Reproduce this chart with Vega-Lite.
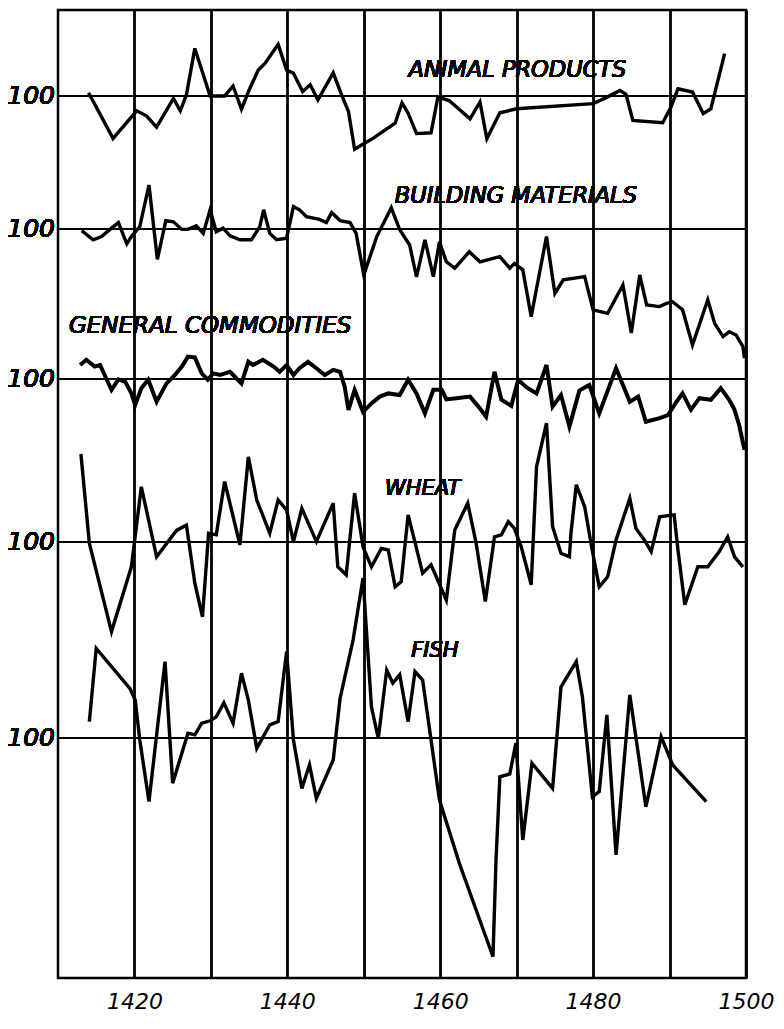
{
  "$schema": "https://vega.github.io/schema/vega-lite/v6.json",
  "width": 688,
  "height": 968,
  "autosize": {"type": "none"},
  "padding": {"left": 58, "top": 10, "right": 38, "bottom": 51},
  "background": "white",
  "config": {
    "view": {"stroke": "black", "strokeWidth": 2.5},
    "font": "DejaVu Sans"
  },
  "datasets": {
    "animal": [
      {"yr":1414.0,"v":100.8},{"yr":1417.2,"v":89.4},{"yr":1420.3,"v":96.3},{"yr":1421.6,"v":95.0},{"yr":1422.9,"v":92.2},{"yr":1425.1,"v":99.4},{"yr":1426.0,"v":96.3},{"yr":1426.8,"v":100.3},{"yr":1427.9,"v":111.9},{"yr":1429.9,"v":100},{"yr":1431.8,"v":100},{"yr":1432.9,"v":102.5},{"yr":1434.0,"v":96.7},{"yr":1435.0,"v":101.5},{"yr":1436.2,"v":106.5},{"yr":1437.1,"v":108.2},{"yr":1438.8,"v":112.9},{"yr":1439.9,"v":106.5},{"yr":1440.8,"v":105.7},{"yr":1442.0,"v":101.1},{"yr":1443.0,"v":102.8},{"yr":1444.0,"v":99.0},{"yr":1446.0,"v":105.8},{"yr":1447.1,"v":100.3},{"yr":1448.0,"v":96.1},{"yr":1448.8,"v":86.7},{"yr":1450.1,"v":88.2},{"yr":1451.2,"v":89.4},{"yr":1454.1,"v":93.2},{"yr":1455.0,"v":98.3},{"yr":1455.8,"v":95.7},{"yr":1456.9,"v":90.6},{"yr":1458.8,"v":90.8},{"yr":1459.7,"v":99.8},{"yr":1461.2,"v":98.8},{"yr":1463.9,"v":94.3},{"yr":1465.2,"v":98.5},{"yr":1466.1,"v":89.3},{"yr":1467.8,"v":95.8},{"yr":1470.0,"v":96.8},{"yr":1480.0,"v":98.1},{"yr":1481.7,"v":99.6},{"yr":1483.5,"v":101.4},{"yr":1484.3,"v":100.4},{"yr":1485.2,"v":93.9},{"yr":1489.1,"v":93.3},{"yr":1490.2,"v":97.3},{"yr":1491.1,"v":101.8},{"yr":1493.0,"v":101},{"yr":1494.4,"v":95.6},{"yr":1495.4,"v":96.8},{"yr":1497.2,"v":110.6}
    ],
    "building": [
      {"yr":1413.1,"v":99.6},{"yr":1414.6,"v":97.3},{"yr":1415.7,"v":98.1},{"yr":1416.8,"v":99.9},{"yr":1417.9,"v":101.6},{"yr":1419.0,"v":96.3},{"yr":1419.6,"v":98.1},{"yr":1420.7,"v":100.6},{"yr":1421.9,"v":111},{"yr":1423.0,"v":92.4},{"yr":1424.1,"v":102.1},{"yr":1425.1,"v":101.8},{"yr":1426.2,"v":99.9},{"yr":1427.0,"v":99.9},{"yr":1428.1,"v":100.8},{"yr":1429.0,"v":98.9},{"yr":1429.9,"v":104.8},{"yr":1430.7,"v":99.3},{"yr":1431.6,"v":100.2},{"yr":1432.5,"v":98.3},{"yr":1433.8,"v":97.3},{"yr":1435.3,"v":97.3},{"yr":1436.4,"v":100.6},{"yr":1436.9,"v":104.8},{"yr":1437.7,"v":98.9},{"yr":1438.6,"v":97.3},{"yr":1439.9,"v":97.7},{"yr":1440.8,"v":105.6},{"yr":1441.6,"v":104.8},{"yr":1442.5,"v":103.1},{"yr":1444.2,"v":102.4},{"yr":1445.1,"v":101.6},{"yr":1445.8,"v":104.1},{"yr":1446.9,"v":102.1},{"yr":1448.2,"v":101.6},{"yr":1449.0,"v":98.9},{"yr":1450.0,"v":88.5},{"yr":1451.7,"v":98.1},{"yr":1453.6,"v":105.3},{"yr":1454.7,"v":99.8},{"yr":1456.0,"v":96},{"yr":1456.9,"v":88},{"yr":1458.0,"v":97.3},{"yr":1459.1,"v":88.1},{"yr":1459.9,"v":96.8},{"yr":1460.8,"v":91.8},{"yr":1461.9,"v":90.2},{"yr":1463.8,"v":94.3},{"yr":1465.2,"v":91.8},{"yr":1467.8,"v":93.1},{"yr":1469.1,"v":90.2},{"yr":1469.7,"v":91.4},{"yr":1470.8,"v":89.8},{"yr":1471.9,"v":78.1},{"yr":1473.9,"v":98.1},{"yr":1475.0,"v":83.9},{"yr":1476.1,"v":87.3},{"yr":1478.9,"v":88.1},{"yr":1480.0,"v":79.8},{"yr":1481.9,"v":78.9},{"yr":1483.9,"v":86},{"yr":1485.0,"v":74},{"yr":1486.1,"v":88.5},{"yr":1487.0,"v":81},{"yr":1488.7,"v":80.6},{"yr":1489.6,"v":81.4},{"yr":1490.4,"v":81.8},{"yr":1491.7,"v":79.8},{"yr":1493.0,"v":71},{"yr":1495.0,"v":82.3},{"yr":1495.9,"v":76.4},{"yr":1497.0,"v":73.1},{"yr":1497.8,"v":74.3},{"yr":1498.7,"v":73.5},{"yr":1499.6,"v":70.6},{"yr":1499.8,"v":67.7}
    ],
    "general": [
      {"yr":1412.9,"v":103.5},{"yr":1413.7,"v":104.8},{"yr":1414.8,"v":103.1},{"yr":1415.5,"v":103.5},{"yr":1416.1,"v":101},{"yr":1417.0,"v":97.3},{"yr":1417.9,"v":99.9},{"yr":1418.8,"v":99.3},{"yr":1419.6,"v":96.4},{"yr":1420.1,"v":93.5},{"yr":1420.9,"v":97.7},{"yr":1421.8,"v":99.8},{"yr":1422.9,"v":94.3},{"yr":1424.2,"v":98.9},{"yr":1425.3,"v":101},{"yr":1426.2,"v":103.1},{"yr":1427.0,"v":105.6},{"yr":1427.9,"v":105.4},{"yr":1428.8,"v":101.4},{"yr":1429.6,"v":99.8},{"yr":1430.3,"v":101.4},{"yr":1431.2,"v":101},{"yr":1432.5,"v":101.8},{"yr":1434.0,"v":98.9},{"yr":1434.9,"v":104.3},{"yr":1435.5,"v":103.5},{"yr":1436.8,"v":104.8},{"yr":1438.2,"v":103.1},{"yr":1439.0,"v":101.8},{"yr":1439.9,"v":103.5},{"yr":1440.8,"v":101},{"yr":1441.6,"v":102.7},{"yr":1442.7,"v":104.3},{"yr":1443.8,"v":102.7},{"yr":1444.9,"v":101},{"yr":1446.0,"v":102.3},{"yr":1446.9,"v":101.8},{"yr":1447.5,"v":98.1},{"yr":1448.0,"v":92.3},{"yr":1448.8,"v":97.3},{"yr":1449.9,"v":91.8},{"yr":1451.0,"v":93.9},{"yr":1452.1,"v":95.6},{"yr":1453.2,"v":96.4},{"yr":1454.7,"v":96},{"yr":1455.8,"v":99.8},{"yr":1456.9,"v":96.4},{"yr":1458.0,"v":91.4},{"yr":1459.1,"v":97.3},{"yr":1460.2,"v":97.3},{"yr":1460.8,"v":94.9},{"yr":1462.1,"v":95.2},{"yr":1463.9,"v":95.6},{"yr":1465.0,"v":93.1},{"yr":1466.0,"v":90.6},{"yr":1467.1,"v":101.8},{"yr":1468.0,"v":94.8},{"yr":1469.3,"v":93.3},{"yr":1470.2,"v":99.8},{"yr":1471.3,"v":97.9},{"yr":1472.6,"v":96.4},{"yr":1473.9,"v":103.5},{"yr":1474.7,"v":93.1},{"yr":1475.8,"v":96},{"yr":1476.9,"v":88.1},{"yr":1478.2,"v":97.1},{"yr":1479.5,"v":98.5},{"yr":1480.8,"v":91.4},{"yr":1483.0,"v":102.7},{"yr":1484.8,"v":94.3},{"yr":1485.9,"v":95.6},{"yr":1486.9,"v":89.3},{"yr":1488.7,"v":90.2},{"yr":1489.8,"v":91},{"yr":1490.9,"v":94.3},{"yr":1491.7,"v":96.4},{"yr":1492.8,"v":92.3},{"yr":1493.9,"v":95.2},{"yr":1495.4,"v":94.8},{"yr":1496.7,"v":97.7},{"yr":1497.8,"v":94.8},{"yr":1498.5,"v":92.3},{"yr":1499.1,"v":88.5},{"yr":1499.8,"v":82.3}
    ],
    "wheat": [
      {"yr":1413.0,"v":122},{"yr":1414.1,"v":99.7},{"yr":1417.0,"v":77.6},{"yr":1419.6,"v":93.8},{"yr":1420.9,"v":113.8},{"yr":1422.9,"v":96.3},{"yr":1425.5,"v":102.9},{"yr":1426.8,"v":104.2},{"yr":1427.9,"v":89.7},{"yr":1428.9,"v":81.3},{"yr":1429.7,"v":102.2},{"yr":1430.7,"v":101.8},{"yr":1431.8,"v":115.1},{"yr":1432.7,"v":108},{"yr":1433.8,"v":99.3},{"yr":1434.9,"v":121.3},{"yr":1436.0,"v":110.5},{"yr":1437.7,"v":102.2},{"yr":1438.8,"v":110.5},{"yr":1439.9,"v":108},{"yr":1440.8,"v":100.1},{"yr":1441.9,"v":108.4},{"yr":1443.8,"v":100.1},{"yr":1446.0,"v":109.7},{"yr":1446.6,"v":93.8},{"yr":1447.7,"v":91.8},{"yr":1448.8,"v":112.2},{"yr":1449.9,"v":98.8},{"yr":1451.0,"v":93.8},{"yr":1452.3,"v":98.4},{"yr":1453.2,"v":98},{"yr":1454.1,"v":88.8},{"yr":1454.9,"v":90.1},{"yr":1455.8,"v":106.8},{"yr":1457.7,"v":92.2},{"yr":1458.8,"v":94.3},{"yr":1460.8,"v":85.5},{"yr":1461.9,"v":103},{"yr":1463.6,"v":109.7},{"yr":1464.7,"v":99.7},{"yr":1465.9,"v":85.1},{"yr":1467.1,"v":101.3},{"yr":1468.0,"v":101.8},{"yr":1468.9,"v":105.1},{"yr":1469.7,"v":103.4},{"yr":1470.6,"v":98.8},{"yr":1471.9,"v":89.3},{"yr":1472.6,"v":118.8},{"yr":1473.9,"v":129.7},{"yr":1474.7,"v":103.8},{"yr":1475.8,"v":97.2},{"yr":1476.9,"v":96.3},{"yr":1477.1,"v":102.2},{"yr":1477.8,"v":114.3},{"yr":1478.9,"v":108.8},{"yr":1479.8,"v":98.8},{"yr":1480.8,"v":88.8},{"yr":1481.9,"v":91.3},{"yr":1483.0,"v":100.5},{"yr":1484.8,"v":110.9},{"yr":1485.6,"v":103.4},{"yr":1486.7,"v":100.5},{"yr":1487.6,"v":97.6},{"yr":1488.7,"v":106.3},{"yr":1490.6,"v":106.8},{"yr":1491.1,"v":98},{"yr":1492.0,"v":84.3},{"yr":1493.7,"v":93.8},{"yr":1495.0,"v":93.8},{"yr":1496.5,"v":97.6},{"yr":1497.6,"v":101.3},{"yr":1498.5,"v":96.3},{"yr":1499.6,"v":93.8}
    ],
    "fish": [
      {"yr":1414.1,"v":104.1},{"yr":1415.0,"v":122.4},{"yr":1419.4,"v":112.4},{"yr":1420.1,"v":109.5},{"yr":1420.7,"v":99.5},{"yr":1421.9,"v":84.1},{"yr":1424.0,"v":119.1},{"yr":1425.0,"v":88.7},{"yr":1427.0,"v":101.2},{"yr":1427.9,"v":100.8},{"yr":1428.8,"v":103.7},{"yr":1429.9,"v":104.3},{"yr":1430.7,"v":105.3},{"yr":1431.7,"v":108.8},{"yr":1432.9,"v":103.7},{"yr":1434.0,"v":116.2},{"yr":1434.9,"v":109.5},{"yr":1436.0,"v":97.4},{"yr":1437.7,"v":103.3},{"yr":1438.8,"v":104.1},{"yr":1439.9,"v":121.6},{"yr":1440.8,"v":99.5},{"yr":1441.9,"v":87.4},{"yr":1442.9,"v":93.3},{"yr":1443.8,"v":84.9},{"yr":1446.0,"v":94.5},{"yr":1446.9,"v":109.9},{"yr":1448.6,"v":124.5},{"yr":1449.9,"v":140},{"yr":1451.0,"v":107.8},{"yr":1451.9,"v":99.9},{"yr":1453.0,"v":117},{"yr":1453.8,"v":113.7},{"yr":1454.7,"v":115.8},{"yr":1455.8,"v":104.1},{"yr":1456.7,"v":116.6},{"yr":1457.7,"v":114.5},{"yr":1458.8,"v":99.5},{"yr":1459.9,"v":84.5},{"yr":1462.5,"v":68.7},{"yr":1466.9,"v":45.3},{"yr":1467.3,"v":69.5},{"yr":1467.8,"v":90.3},{"yr":1469.1,"v":91},{"yr":1469.9,"v":98.7},{"yr":1470.8,"v":74.5},{"yr":1472.0,"v":93.7},{"yr":1474.7,"v":87.4},{"yr":1475.8,"v":112.8},{"yr":1477.8,"v":119.1},{"yr":1478.6,"v":110.3},{"yr":1479.9,"v":85.3},{"yr":1480.8,"v":86.6},{"yr":1481.8,"v":105.8},{"yr":1483.0,"v":70.8},{"yr":1484.8,"v":110.8},{"yr":1486.9,"v":82.8},{"yr":1488.9,"v":100.3},{"yr":1490.4,"v":93.3},{"yr":1494.8,"v":84.1}
    ]
  },
  "layer": [
    {
      "data": {"name": "animal"},
      "layer": [
        {"mark": {"type": "line", "color": "black", "strokeWidth": 3.4, "strokeJoin": "miter"},
         "encoding": {
           "x": {"field": "yr", "type": "quantitative", "scale": {"domain": [1410, 1500], "nice": false, "zero": false},
                 "axis": {"values": [1420,1430,1440,1450,1460,1470,1480,1490,1500], "format": "d", "labelExpr": "datum.value % 20 == 0 ? datum.label : ''", "title": null, "grid": true, "gridColor": "black", "gridWidth": 2.8, "gridOpacity": 1, "ticks": false, "domain": false, "labelFlush": false, "labelFont": "DejaVu Sans", "labelFontStyle": "italic", "labelFontSize": 22, "labelColor": "black", "labelPadding": 13, "labelOverlap": false}},
           "y": {"field": "v", "type": "quantitative", "scale": {"domain": [-120.5, 121.5], "nice": false, "zero": false}, "axis": null}
         }},
        {"mark": {"type": "rule", "color": "black", "strokeWidth": 2.2}, "encoding": {"y": {"datum": 100, "type": "quantitative", "axis": null}}},
        {"mark": {"type": "text", "align": "right", "baseline": "middle", "dx": -3, "fontSize": 25, "fontStyle": "italic", "color": "black"},
         "encoding": {"x": {"datum": 1410, "type": "quantitative"}, "y": {"datum": 100, "type": "quantitative", "axis": null}, "text": {"value": "100"}}},
        {"mark": {"type": "text", "align": "center", "baseline": "middle", "fontSize": 22.5, "fontStyle": "italic", "color": "black"},
         "encoding": {"x": {"datum": 1470.1, "type": "quantitative"}, "y": {"datum": 106.5, "type": "quantitative", "axis": null}, "text": {"value": "ANIMAL PRODUCTS"}}}
      ]
    },
    {
      "data": {"name": "building"},
      "layer": [
        {"mark": {"type": "line", "color": "black", "strokeWidth": 3.4, "strokeJoin": "miter"},
         "encoding": {
           "x": {"field": "yr", "type": "quantitative"},
           "y": {"field": "v", "type": "quantitative", "scale": {"domain": [-87.25, 154.75], "nice": false, "zero": false}, "axis": null}
         }},
        {"mark": {"type": "rule", "color": "black", "strokeWidth": 2.2}, "encoding": {"y": {"datum": 100, "type": "quantitative", "axis": null}}},
        {"mark": {"type": "text", "align": "right", "baseline": "middle", "dx": -3, "fontSize": 25, "fontStyle": "italic", "color": "black"},
         "encoding": {"x": {"datum": 1410, "type": "quantitative"}, "y": {"datum": 100, "type": "quantitative", "axis": null}, "text": {"value": "100"}}},
        {"mark": {"type": "text", "align": "center", "baseline": "middle", "fontSize": 22.5, "fontStyle": "italic", "color": "black"},
         "encoding": {"x": {"datum": 1469.9, "type": "quantitative"}, "y": {"datum": 108.25, "type": "quantitative", "axis": null}, "text": {"value": "BUILDING MATERIALS"}}}
      ]
    },
    {
      "data": {"name": "general"},
      "layer": [
        {"mark": {"type": "line", "color": "black", "strokeWidth": 4, "strokeJoin": "miter"},
         "encoding": {
           "x": {"field": "yr", "type": "quantitative"},
           "y": {"field": "v", "type": "quantitative", "scale": {"domain": [-49.75, 192.25], "nice": false, "zero": false}, "axis": null}
         }},
        {"mark": {"type": "rule", "color": "black", "strokeWidth": 2.2}, "encoding": {"y": {"datum": 100, "type": "quantitative", "axis": null}}},
        {"mark": {"type": "text", "align": "right", "baseline": "middle", "dx": -3, "fontSize": 25, "fontStyle": "italic", "color": "black"},
         "encoding": {"x": {"datum": 1410, "type": "quantitative"}, "y": {"datum": 100, "type": "quantitative", "axis": null}, "text": {"value": "100"}}},
        {"mark": {"type": "text", "align": "center", "baseline": "middle", "fontSize": 23, "fontStyle": "italic", "color": "black"},
         "encoding": {"x": {"datum": 1429.9, "type": "quantitative"}, "y": {"datum": 113.25, "type": "quantitative", "axis": null}, "text": {"value": "GENERAL COMMODITIES"}}}
      ]
    },
    {
      "data": {"name": "wheat"},
      "layer": [
        {"mark": {"type": "line", "color": "black", "strokeWidth": 3.4, "strokeJoin": "miter"},
         "encoding": {
           "x": {"field": "yr", "type": "quantitative"},
           "y": {"field": "v", "type": "quantitative", "scale": {"domain": [-9, 233], "nice": false, "zero": false}, "axis": null}
         }},
        {"mark": {"type": "rule", "color": "black", "strokeWidth": 2.2}, "encoding": {"y": {"datum": 100, "type": "quantitative", "axis": null}}},
        {"mark": {"type": "text", "align": "right", "baseline": "middle", "dx": -3, "fontSize": 25, "fontStyle": "italic", "color": "black"},
         "encoding": {"x": {"datum": 1410, "type": "quantitative"}, "y": {"datum": 100, "type": "quantitative", "axis": null}, "text": {"value": "100"}}},
        {"mark": {"type": "text", "align": "center", "baseline": "middle", "fontSize": 21, "fontStyle": "italic", "color": "black"},
         "encoding": {"x": {"datum": 1457.7, "type": "quantitative"}, "y": {"datum": 113.25, "type": "quantitative", "axis": null}, "text": {"value": "WHEAT"}}}
      ]
    },
    {
      "data": {"name": "fish"},
      "layer": [
        {"mark": {"type": "line", "color": "black", "strokeWidth": 3.4, "strokeJoin": "miter"},
         "encoding": {
           "x": {"field": "yr", "type": "quantitative"},
           "y": {"field": "v", "type": "quantitative", "scale": {"domain": [40, 282], "nice": false, "zero": false}, "axis": null}
         }},
        {"mark": {"type": "rule", "color": "black", "strokeWidth": 2.2}, "encoding": {"y": {"datum": 100, "type": "quantitative", "axis": null}}},
        {"mark": {"type": "text", "align": "right", "baseline": "middle", "dx": -3, "fontSize": 25, "fontStyle": "italic", "color": "black"},
         "encoding": {"x": {"datum": 1410, "type": "quantitative"}, "y": {"datum": 100, "type": "quantitative", "axis": null}, "text": {"value": "100"}}},
        {"mark": {"type": "text", "align": "center", "baseline": "middle", "fontSize": 21, "fontStyle": "italic", "color": "black"},
         "encoding": {"x": {"datum": 1459.3, "type": "quantitative"}, "y": {"datum": 121.75, "type": "quantitative", "axis": null}, "text": {"value": "FISH"}}}
      ]
    }
  ],
  "resolve": {"scale": {"y": "independent"}}
}
